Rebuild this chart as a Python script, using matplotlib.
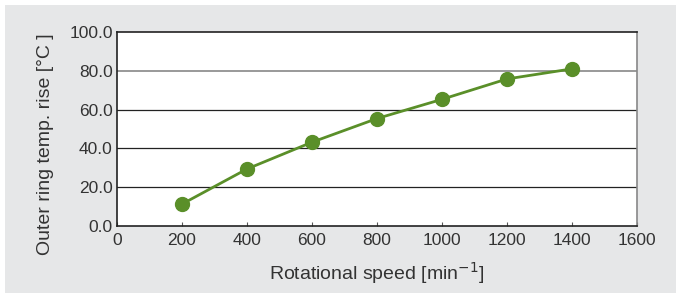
import matplotlib
matplotlib.use("Agg")
import matplotlib.pyplot as plt
from matplotlib.patches import Rectangle

speed = [200, 400, 600, 800, 1000, 1200, 1400]
temp_rise = [11.3, 29.4, 43.2, 55.4, 65.3, 75.8, 81.0]
xticks = [0, 200, 400, 600, 800, 1000, 1200, 1400, 1600]
yticks = [0, 20, 40, 60, 80, 100]

plt.rcParams['font.family'] = ['Liberation Sans', 'DejaVu Sans']
txt = '#333333'
green = '#5a8f29'

fig = plt.figure(figsize=(6.81, 2.98), dpi=100)
fig.patch.set_facecolor('white')
fig.patches.append(Rectangle((5/681, 5/298), 671/681, 288/298, transform=fig.transFigure,
                             facecolor='#e6e7e8', edgecolor='none', zorder=-10))

ax = fig.add_axes([117/681, 1 - 226/298, 520/681, 194/298])
ax.set_facecolor('white')
ax.plot(speed, temp_rise, color=green, lw=2, marker='o', ms=10, zorder=3, clip_on=False)
ax.set_xlim(0, 1600)
ax.set_ylim(0, 100)
ax.set_xticks(xticks)
ax.set_xticklabels([str(v) for v in xticks])
ax.set_yticks(yticks)
ax.set_yticklabels([f'{v:.1f}' for v in yticks])
for y in [20, 40, 60]:
    ax.axhline(y, color='#222222', lw=0.9, zorder=1)
ax.axhline(80, color='#888888', lw=1.2, zorder=1)
for s in ['left', 'bottom', 'top']:
    ax.spines[s].set_color('#222222')
    ax.spines[s].set_linewidth(1.2)
ax.spines['right'].set_color('#888888')
ax.spines['right'].set_linewidth(1.2)
ax.tick_params(axis='x', direction='in', length=3, width=0.8, color='#555555',
               labelsize=12.5, labelcolor=txt, pad=5)
ax.tick_params(axis='y', length=0, labelsize=12.5, labelcolor=txt, pad=3)
ax.set_xlabel('Rotational speed [min$^{-1}$]', fontsize=14, color=txt, labelpad=9)
ax.set_ylabel('Outer ring temp. rise [°C ]', fontsize=14, color=txt)
ax.yaxis.set_label_coords(-0.122, 0.42)
fig.savefig('out.png', dpi=100)
